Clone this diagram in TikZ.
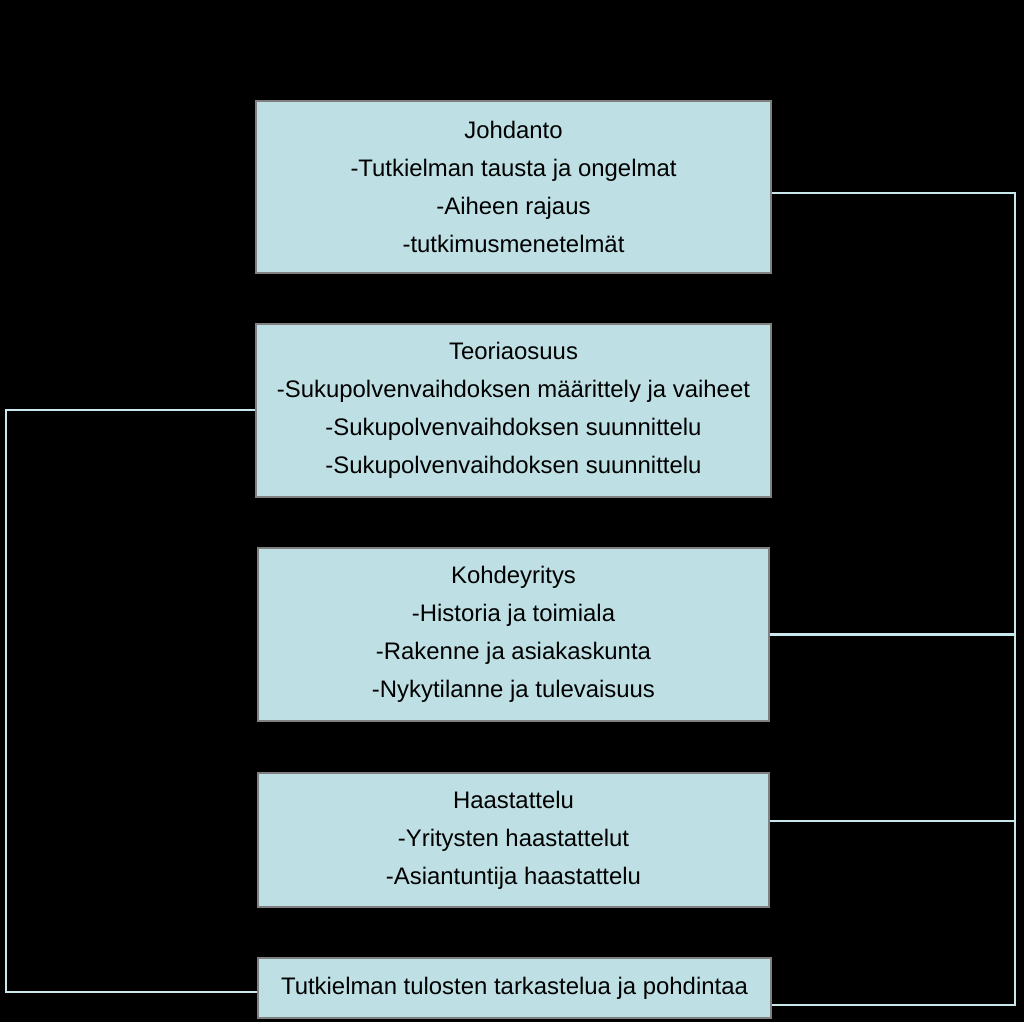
\documentclass[tikz,border=0pt]{standalone}
\usepackage{fontspec}
\setmainfont{Liberation Sans}
\definecolor{boxfill}{RGB}{190,224,228}
\definecolor{boxline}{RGB}{128,128,128}
\definecolor{linkcol}{RGB}{200,232,236}
\begin{document}
\begin{tikzpicture}[x=0.025cm,y=-0.025cm]
	\tikzstyle{Box} = [rectangle, text centered, align=center, draw=boxline, line width=1.2pt, fill=boxfill, inner sep=0pt, font=\fontsize{17}{27}\selectfont]
	\tikzstyle{link} = [linkcol, line width=1.5pt]
	
	\fill [black] (0,0) rectangle (1024,1022);
	
	\node (intro) [Box, minimum width=12.875cm, minimum height=4.3cm] at (513.5,187) {Johdanto\\-Tutkielman tausta ja ongelmat\\-Aiheen rajaus\\-tutkimusmenetelmät};
	\node (theory) [Box, minimum width=12.875cm, minimum height=4.325cm] at (513.5,410.5) {Teoriaosuus\\-Sukupolvenvaihdoksen määrittely ja vaiheet\\-Sukupolvenvaihdoksen suunnittelu\\-Sukupolvenvaihdoksen suunnittelu};
	\node (firm) [Box, minimum width=12.775cm, minimum height=4.325cm] at (513.5,634.5) {Kohdeyritys\\-Historia ja toimiala\\-Rakenne ja asiakaskunta\\-Nykytilanne ja tulevaisuus};
	\node (interview) [Box, minimum width=12.775cm, minimum height=3.35cm] at (513.5,840) {Haastattelu\\-Yritysten haastattelut\\-Asiantuntija haastattelu};
	\node (result) [Box, minimum width=12.825cm, minimum height=1.5cm] at (514.5,988) {Tutkielman tulosten tarkastelua ja pohdintaa};
	
	\coordinate (rtop) at (1015,193);
	\coordinate (rbot) at (1015,1005);
	\coordinate (ltop) at (6,410);
	\coordinate (lbot) at (6,992);
	
	\draw [link] (intro.east |- rtop) -- (rtop) -- (rbot) -- (result.east |- rbot);
	\draw [link] (firm.east) -- (firm.east -| rtop);
	\draw [link] (interview.east |- 0,821) -- (1015,821);
	\draw [link] (theory.west |- ltop) -- (ltop) -- (lbot) -- (result.west |- lbot);
\end{tikzpicture}
\end{document}
